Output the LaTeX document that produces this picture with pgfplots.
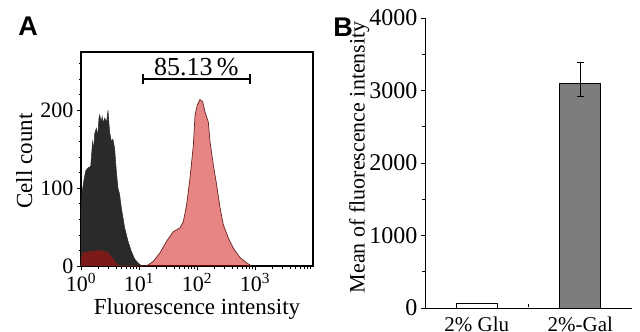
\documentclass[border=0pt]{standalone}
\usepackage{fontspec}
\setmainfont{Liberation Serif}
\newfontfamily\labfont{Liberation Sans}
\usepackage{pgfplots}
\pgfplotsset{compat=1.18}
\definecolor{histblack}{RGB}{42,42,42}
\definecolor{histred}{RGB}{205,12,10}
\definecolor{histredline}{RGB}{105,35,30}
\definecolor{bargray}{RGB}{125,125,125}
\begin{document}
\begin{tikzpicture}[x=1bp,y=1bp]
\useasboundingbox (0,0) rectangle (640,331);
\node[font=\labfont\bfseries\fontsize{27bp}{29bp}\selectfont, anchor=base] at (28,296) {A};
\node[font=\labfont\bfseries\fontsize{27bp}{29bp}\selectfont, anchor=base] at (343,295) {B};

\begin{axis}[
  at={(81bp,65bp)}, anchor=south west,
  width=232bp, height=214bp, scale only axis,
  xmin=0, xmax=4, ymin=0, ymax=275,
  xtick={0,1,2,3},
  xticklabels={10\textsuperscript{0},10\textsuperscript{1},10\textsuperscript{2},10\textsuperscript{3}},
  minor xtick={0.301,0.477,0.602,0.699,0.778,0.845,0.903,0.954,
               1.301,1.477,1.602,1.699,1.778,1.845,1.903,1.954,
               2.301,2.477,2.602,2.699,2.778,2.845,2.903,2.954,
               3.301,3.477,3.602,3.699,3.778,3.845,3.903,3.954},
  ytick={0,100,200},
  minor ytick={20,40,60,80,120,140,160,180,220,240,260},
  tick align=outside, xtick pos=bottom, ytick pos=left,
  major tick length=4bp, minor tick length=2.5bp,
  every tick/.style={black, line width=0.6bp},
  tick label style={font=\fontsize{22bp}{24bp}\selectfont},
  /pgf/number format/assume math mode=true,
  xlabel={Fluorescence intensity}, ylabel={Cell count},
  label style={font=\fontsize{23bp}{25bp}\selectfont},
  ylabel style={at={(axis description cs:-0.245,0.49)}, anchor=center},
  axis line style={line width=1.1bp},
  clip=false,
]
\addplot[fill=histblack, draw=histblack, line width=0.5bp] coordinates {
(0,0) (0.003,70) (0.02,95) (0.05,110) (0.08,122) (0.12,126) (0.167,128) (0.2,160)
(0.22,150) (0.236,170) (0.264,177) (0.29,168) (0.31,190) (0.322,194) (0.35,185)
(0.365,192) (0.379,184) (0.408,190) (0.44,185) (0.466,200) (0.48,185) (0.494,172)
(0.523,160) (0.55,163) (0.58,151) (0.61,121) (0.638,100) (0.666,92) (0.695,75)
(0.753,49) (0.81,32) (0.867,19) (0.925,9) (0.983,4) (1.03,1) (1.07,0)
};
\addplot[fill=histred, fill opacity=0.5, draw=histredline, line width=0.7bp] coordinates {
(0,0) (0.005,10) (0.03,17) (0.1,18) (0.2,19) (0.3,20) (0.4,19) (0.47,17) (0.53,11)
(0.58,6) (0.63,2) (0.68,0) (1.10,0) (1.15,1) (1.247,6) (1.362,17) (1.477,32) (1.59,44)
(1.707,49) (1.764,57) (1.822,79) (1.879,113) (1.937,155) (1.966,194) (2.006,207)
(2.05,214) (2.098,211) (2.138,198) (2.195,185) (2.224,160) (2.281,130) (2.339,104)
(2.397,75) (2.454,53) (2.54,36) (2.626,23) (2.74,11) (2.857,4) (2.943,0)
};
\draw[line width=1.6bp, |-|] (axis cs:1.05,240) -- (axis cs:2.93,240);
\node[font=\fontsize{26bp}{28bp}\selectfont, anchor=base] at (axis cs:1.99,245) {85.13\,\%};
\end{axis}

\begin{axis}[
  at={(425bp,23bp)}, anchor=south west,
  width=207bp, height=290bp, scale only axis,
  xmin=0.5, xmax=2.5, ymin=0, ymax=4000,
  axis x line*=bottom, axis y line*=left,
  xtick={1,2}, xticklabels={2\% Glu,2\%-Gal},
  minor xtick={1.5},
  ytick={0,1000,2000,3000,4000},
  minor ytick={500,1500,2500,3500},
  tick align=outside,
  major tick length=4bp, minor tick length=3bp,
  every tick/.style={black, line width=0.6bp},
  major x tick style={draw=none},
  minor x tick style={yshift=4bp},
  yticklabel style={font=\fontsize{24bp}{26bp}\selectfont},
  xticklabel style={font=\fontsize{21bp}{23bp}\selectfont, yshift=-1bp},
  /pgf/number format/assume math mode=true,
  /pgf/number format/1000 sep={},
  scaled y ticks=false,
  ylabel={Mean of fluorescence intensity},
  label style={font=\fontsize{22bp}{24bp}\selectfont},
  ylabel style={at={(axis description cs:-0.318,0.52)}, anchor=center},
  axis line style={line width=1bp},
  clip=false,
]
\addplot[ybar, bar width=0.4, bar shift=0pt, fill=white, draw=black, line width=1bp]
  coordinates {(1,60)};
\addplot[ybar, bar width=0.4, bar shift=0pt, fill=bargray, draw=black, line width=1bp,
  error bars/.cd, y dir=both, y explicit,
  error bar style={line width=1bp, black},
  error mark options={rotate=90, black, mark size=3.5bp, line width=1bp}]
  coordinates {(2,3100) += (0,290) -= (0,180)};
\end{axis}
\end{tikzpicture}
\end{document}
